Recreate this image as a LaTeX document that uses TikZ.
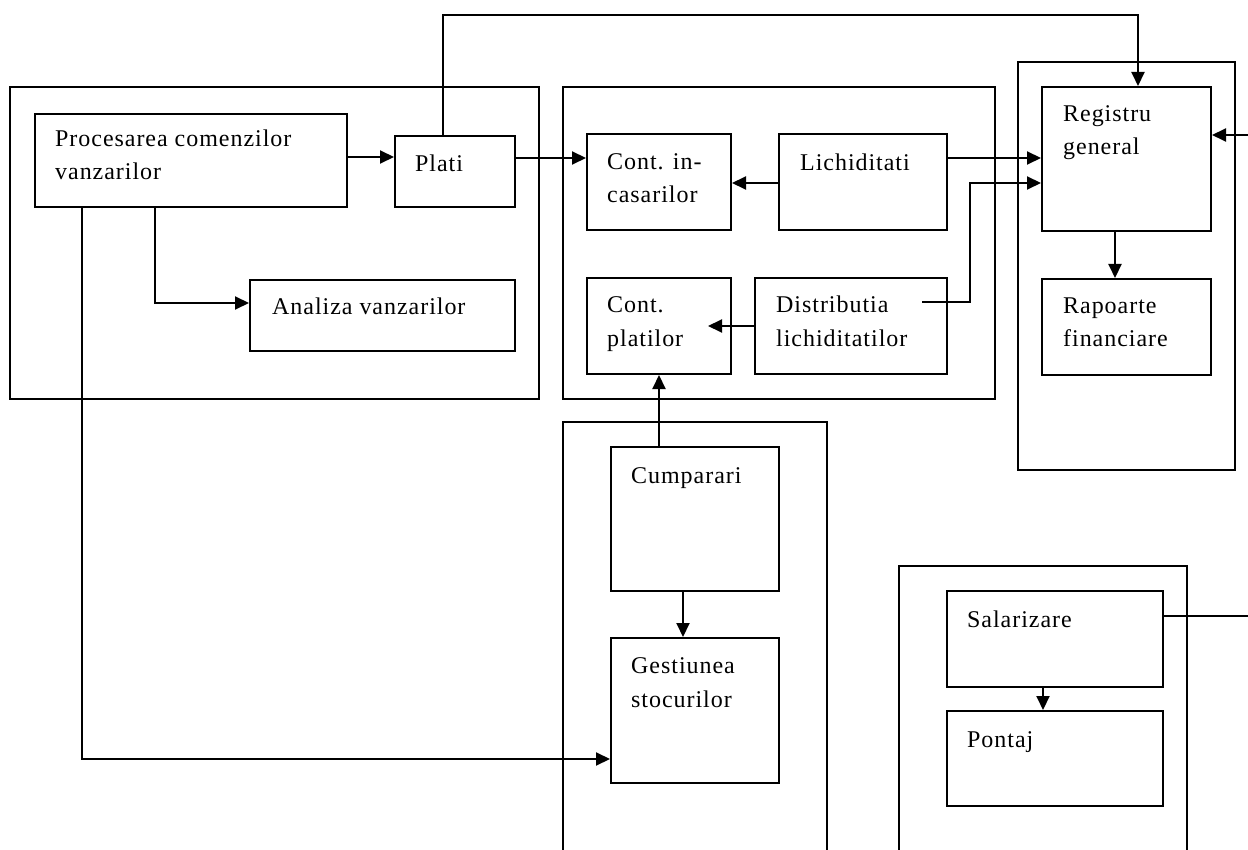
\documentclass[tikz,border=0pt]{standalone}
\usepackage{fontspec}
\setmainfont[LetterSpace=4]{Liberation Serif}
\usetikzlibrary{arrows.meta,fit}
\tikzset{
  box/.style={draw, line width=2pt, rectangle, inner sep=0pt},
  lbl/.style={anchor=base west, inner sep=0pt, font=\fontsize{24pt}{33pt}\selectfont},
  conn/.style={line width=2pt},
  arr/.style={conn, -{Triangle[length=14pt,width=13pt]}},
}
\newcommand{\bx}[5]{\node[box, fit={(#2,#3) (#4,#5)}] (#1) {};}
\newcommand{\tx}[4]{\node[lbl] (#1) at (#2,#3) {#4};}
\begin{document}
\begin{tikzpicture}[x=1pt,y=-1pt]
\useasboundingbox (0,0) rectangle (1248,850);
\clip (0,0) rectangle (1248,850);
% containers
\bx{gA}{10}{87}{539}{399}
\bx{gB}{563}{87}{995}{399}
\bx{gC}{1018}{62}{1235}{470}
\bx{gD}{563}{422}{827}{880}
\bx{gE}{899}{566}{1187}{880}
% boxes
\bx{proc}{35}{114}{347}{207}
\bx{plati}{395}{136}{515}{207}
\bx{anal}{250}{280}{515}{351}
\bx{cinc}{587}{134}{731}{230}
\bx{lich}{779}{134}{947}{230}
\bx{cpla}{587}{278}{731}{374}
\bx{dist}{755}{278}{947}{374}
\bx{reg}{1042}{87}{1211}{231}
\bx{rap}{1042}{279}{1211}{375}
\bx{cump}{611}{447}{779}{591}
\bx{gest}{611}{638}{779}{783}
\bx{sal}{947}{591}{1163}{687}
\bx{pont}{947}{711}{1163}{806}
% texts
\tx{t1}{55}{147}{Procesarea comenzilor}
\tx{t2}{55}{180}{vanzarilor}
\tx{t3}{415}{172}{Plati}
\tx{t4}{272}{315}{Analiza vanzarilor}
\tx{t5}{607}{170}{Cont. in-}
\tx{t6}{607}{203}{casarilor}
\tx{t7}{800}{171}{Lichiditati}
\tx{t8}{607}{313}{Cont.}
\tx{t9}{607}{347}{platilor}
\tx{t10}{776}{313}{Distributia}
\tx{t11}{776}{347}{lichiditatilor}
\tx{t12}{1063}{122}{Registru}
\tx{t13}{1063}{155}{general}
\tx{t14}{1063}{314}{Rapoarte}
\tx{t15}{1063}{347}{financiare}
\tx{t16}{631}{483}{Cumparari}
\tx{t17}{631}{673}{Gestiunea}
\tx{t18}{631}{707}{stocurilor}
\tx{t19}{967}{627}{Salarizare}
\tx{t20}{967}{747}{Pontaj}
% helper coordinates
\coordinate (y157) at (0,157);
\coordinate (y158) at (0,158);
\coordinate (y183) at (0,183);
\coordinate (y303) at (0,303);
\coordinate (y326) at (0,326);
\coordinate (y759) at (0,759);
\coordinate (y135) at (0,135);
\coordinate (y616) at (0,616);
\coordinate (x82) at (82,0);
\coordinate (x155) at (155,0);
\coordinate (x443) at (443,0);
\coordinate (x659) at (659,0);
\coordinate (x683) at (683,0);
\coordinate (x1115) at (1115,0);
\coordinate (x1043) at (1043,0);
\coordinate (top) at (1138,15);
\coordinate (dstart) at (922,302);
\coordinate (dbend) at (970,302);
\coordinate (dend) at (708,326);
\coordinate (redge) at (1250,135);
\coordinate (sedge) at (1250,616);
% connectors
\draw[arr] (proc.east |- y157) -- (plati.west |- y157);
\draw[arr] (proc.south -| x155) |- (anal.west |- y303);
\draw[arr] (proc.south -| x82) |- (gest.west |- y759);
\draw[arr] (plati.north -| x443) |- (top) -- (reg.north -| top);
\draw[arr] (plati.east |- y158) -- (cinc.west |- y158);
\draw[arr] (lich.west |- y183) -- (cinc.east |- y183);
\draw[arr] (lich.east |- y158) -- (reg.west |- y158);
\draw[arr] (dstart) -- (dbend) |- (reg.west |- y183);
\draw[arr] (dist.west |- y326) -- (dend);
\draw[arr] (cump.north -| x659) -- (cpla.south -| x659);
\draw[arr] (cump.south -| x683) -- (gest.north -| x683);
\draw[arr] (reg.south -| x1115) -- (rap.north -| x1115);
\draw[arr] (redge) -- (reg.east |- redge);
\draw[conn] (sal.east |- y616) -- (sedge);
\draw[arr] (sal.south -| x1043) -- (pont.north -| x1043);
\end{tikzpicture}
\end{document}
